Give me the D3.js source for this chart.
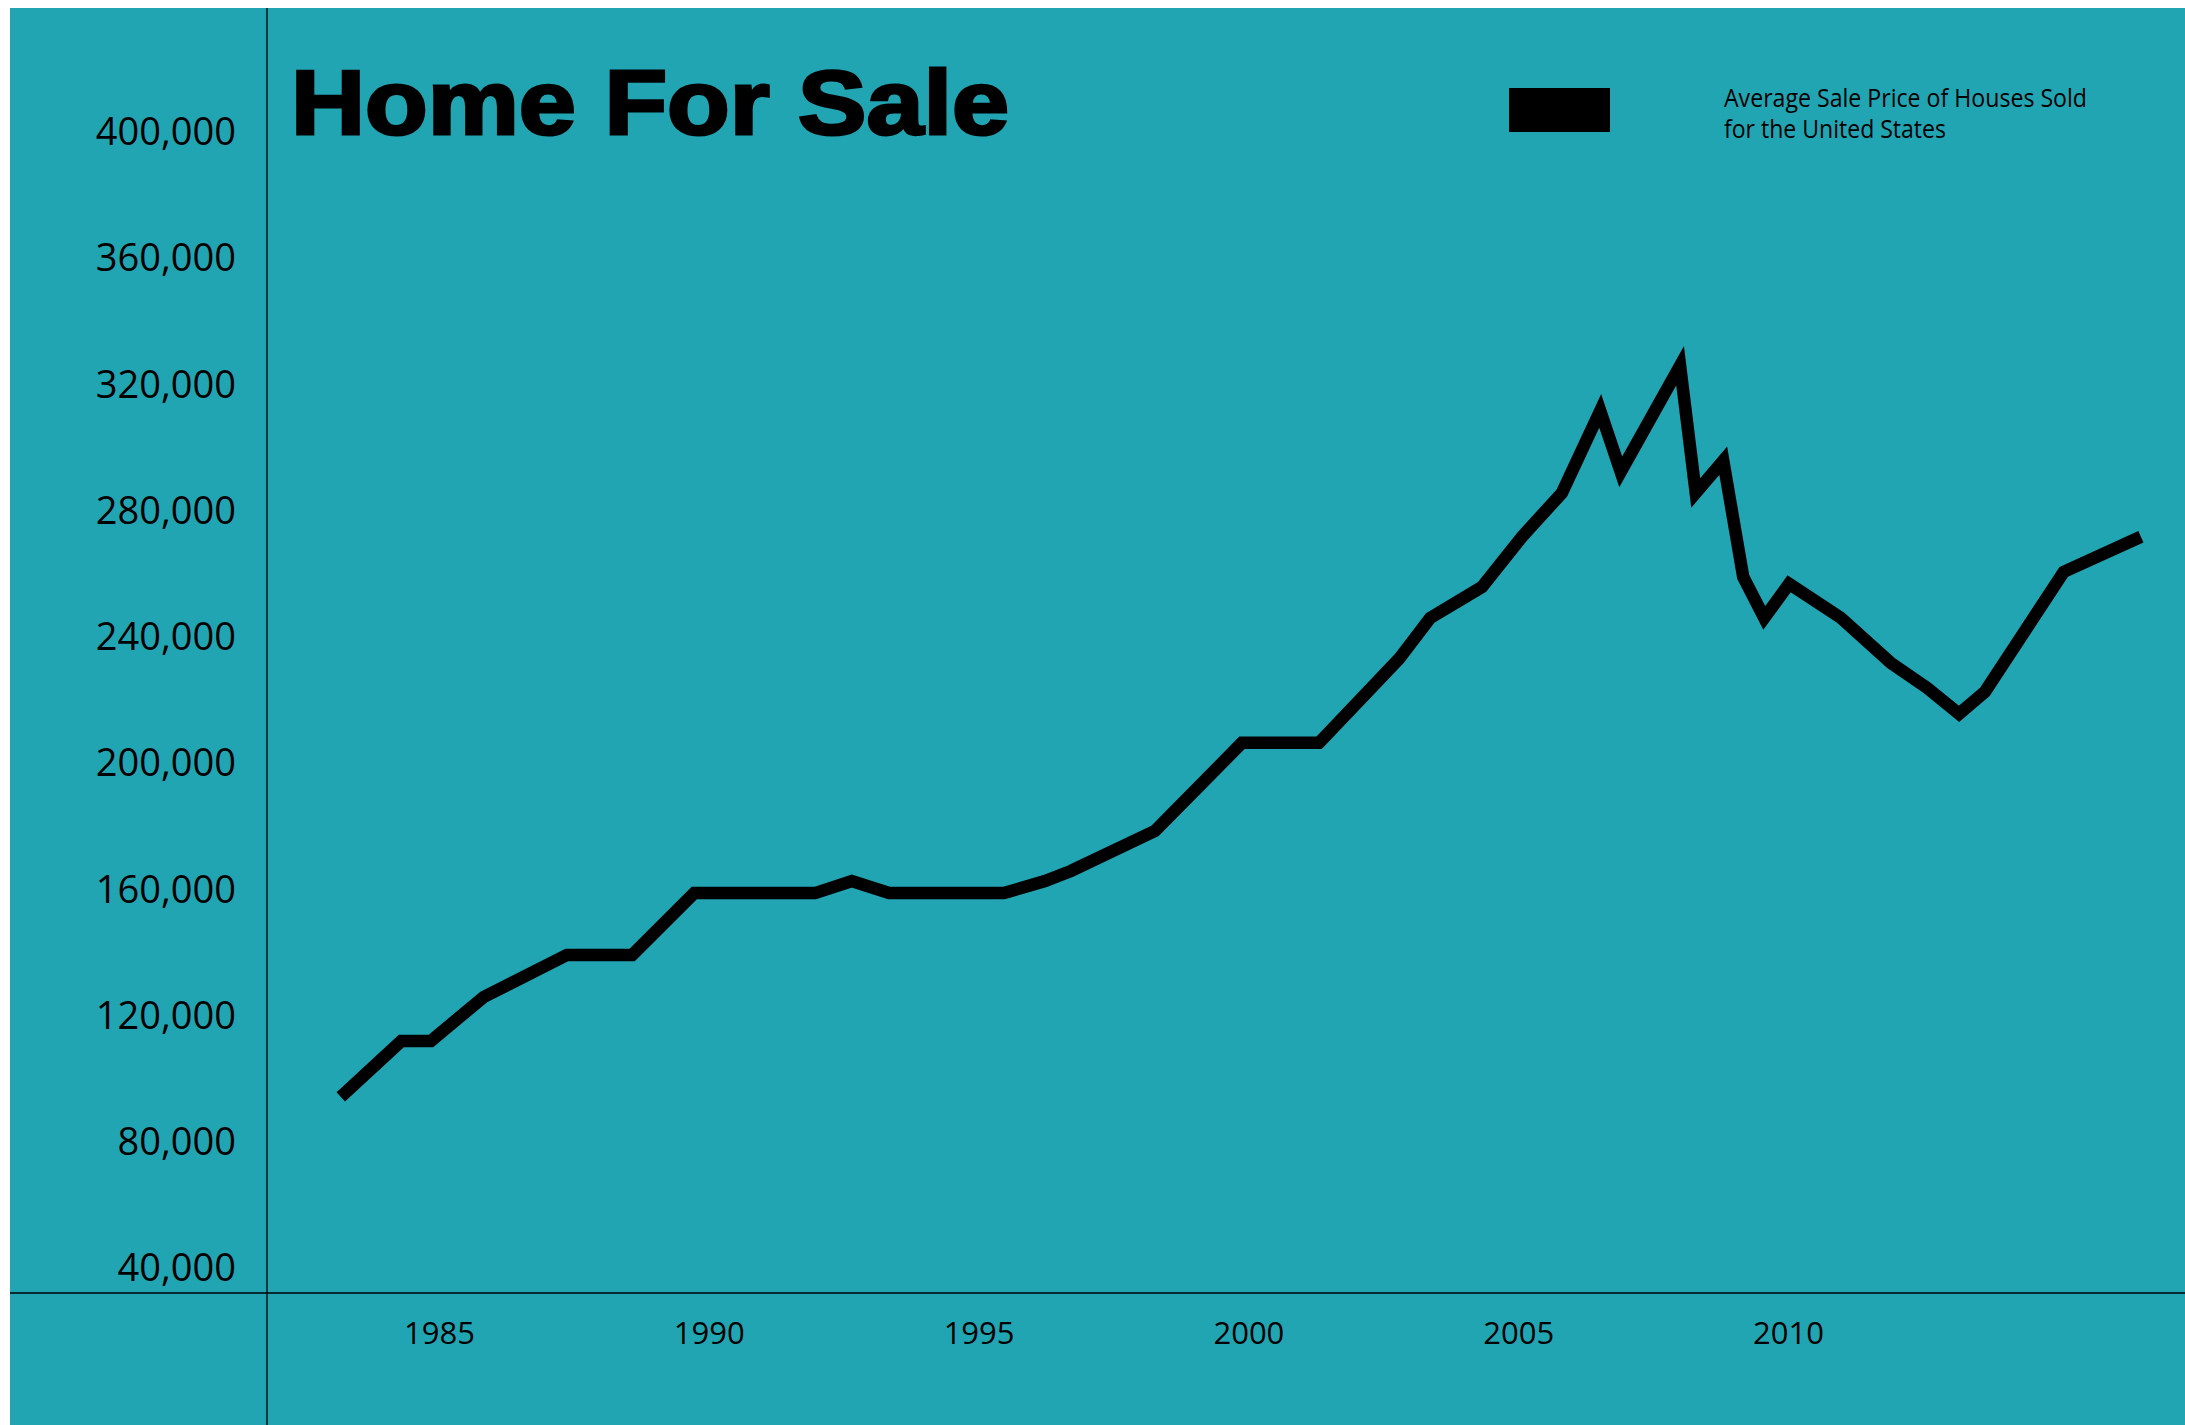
<!DOCTYPE html>
<html>
<head>
<meta charset="utf-8">
<title>Home For Sale</title>
<script src="https://cdn.jsdelivr.net/npm/d3@7"></script>
<style>
  html, body { margin: 0; padding: 0; background: #ffffff; }
  svg { display: block; }
</style>
</head>
<body>
<div id="chart"></div>
<script>
// Average sale price of houses sold in the United States (decimal year, USD)
const years = [
  1983.18, 1984.30, 1984.85, 1985.83, 1987.37, 1988.58, 1989.73, 1991.97,
  1992.65, 1993.34, 1995.47, 1996.23, 1996.71, 1998.27, 1999.88, 2001.31,
  2002.79, 2003.37, 2004.33, 2005.07, 2005.81, 2006.52, 2006.90, 2008.00,
  2008.29, 2008.80, 2009.17, 2009.56, 2010.02, 2010.98, 2011.91, 2012.58,
  2013.17, 2013.65, 2015.11, 2016.54
];
const prices = [
   93900, 111600, 111600, 125600, 138900, 138900, 158500, 158500,
  162300, 158500, 158500, 162300, 165500, 178200, 206100, 206100,
  232700, 245700, 255500, 271400, 285300, 311300, 292000, 325600,
  285300, 295500, 258700, 245700, 256500, 245700, 231400, 223500,
  215300, 222300, 260300, 271400
];

// Axis tick values
const yTicks = [40000, 80000, 120000, 160000, 200000, 240000, 280000, 320000, 360000, 400000];
const xTicks = [1985, 1990, 1995, 2000, 2005, 2010];

const titleText = "Home For Sale";
const legendLines = ["Average Sale Price of Houses Sold", "for the United States"];

const W = 2185, H = 1425;
const teal = "#21a5b3";

const svg = d3.select("#chart").append("svg")
  .attr("width", W).attr("height", H);

// panel background
svg.append("rect")
  .attr("x", 10).attr("y", 8)
  .attr("width", W - 10).attr("height", H - 8)
  .attr("fill", teal);

const x = d3.scaleLinear().domain([1985, 2010]).range([439, 1788]);
const y = d3.scaleLinear().domain([40000, 400000]).range([1267, 131]);

// axis rules
svg.append("line")
  .attr("x1", 267).attr("x2", 267).attr("y1", 8).attr("y2", H)
  .attr("stroke", "#000").attr("stroke-width", 1.3);
svg.append("line")
  .attr("x1", 10).attr("x2", W).attr("y1", 1293).attr("y2", 1293)
  .attr("stroke", "#000").attr("stroke-width", 1.3);

// y axis labels
const fmt = d3.format(",");
const yAxis = svg.append("g")
  .attr("transform", "translate(236,0)")
  .call(d3.axisLeft(y).tickValues(yTicks).tickFormat(fmt).tickSize(0).tickPadding(0));
yAxis.select(".domain").remove();
yAxis.selectAll("text")
  .attr("x", 0)
  .attr("dy", "0.36em")
  .attr("fill", "#000")
  .style("font-family", "'Open Sans', sans-serif")
  .style("font-size", "38px");

// x axis labels
const xAxis = svg.append("g")
  .attr("transform", "translate(0,1333)")
  .call(d3.axisBottom(x).tickValues(xTicks).tickFormat(d3.format("d")).tickSize(0).tickPadding(0));
xAxis.select(".domain").remove();
xAxis.selectAll("text")
  .attr("y", 0)
  .attr("dy", "0.36em")
  .attr("fill", "#000")
  .style("font-family", "'Open Sans', sans-serif")
  .style("font-size", "31px");

// price line
const line = d3.line()
  .x((d, i) => x(years[i]))
  .y((d, i) => y(prices[i]));

svg.append("path")
  .datum(prices)
  .attr("d", line)
  .attr("fill", "none")
  .attr("stroke", "#000")
  .attr("stroke-width", 12.5)
  .attr("stroke-linejoin", "miter")
  .attr("stroke-miterlimit", 10)
  .attr("stroke-linecap", "butt");

// title
svg.append("text")
  .attr("x", 291).attr("y", 134)
  .attr("textLength", 718)
  .attr("lengthAdjust", "spacingAndGlyphs")
  .attr("fill", "#000")
  .attr("stroke", "#000")
  .attr("stroke-width", 3)
  .style("font-family", "'Liberation Sans', Arial, sans-serif")
  .style("font-weight", "bold")
  .style("font-size", "91px")
  .text(titleText);

// legend
svg.append("rect")
  .attr("x", 1509).attr("y", 88)
  .attr("width", 101).attr("height", 44)
  .attr("fill", "#000");

const legendWidths = [363, 222];
svg.selectAll("text.legend")
  .data(legendLines)
  .join("text")
  .attr("class", "legend")
  .attr("x", 1724)
  .attr("y", (d, i) => 107 + i * 31)
  .attr("textLength", (d, i) => legendWidths[i])
  .attr("lengthAdjust", "spacingAndGlyphs")
  .attr("fill", "#000")
  .style("font-family", "'Open Sans', sans-serif")
  .style("font-size", "25px")
  .text(d => d);
</script>
</body>
</html>
